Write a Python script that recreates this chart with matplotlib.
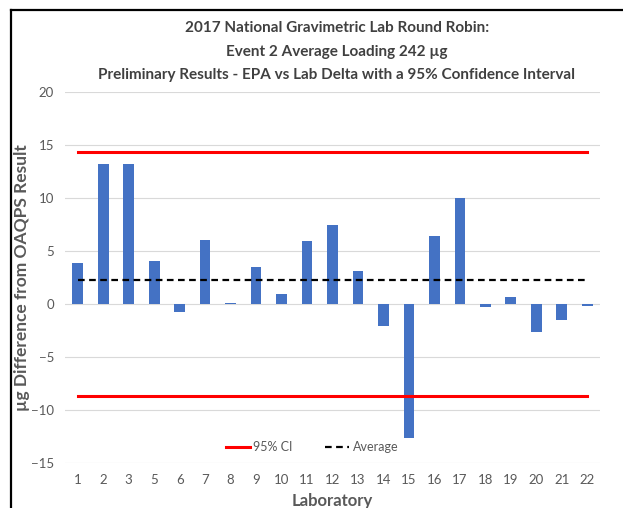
import matplotlib.pyplot as plt
from matplotlib.lines import Line2D

labs = ['1', '2', '3', '5', '6', '7', '8', '9', '10', '11', '12',
        '13', '14', '15', '16', '17', '18', '19', '20', '21', '22']
delta = [3.9, 13.2, 13.25, 4.05, -0.75, 6.07, 0.13, 3.5, 0.97, 5.95, 7.5,
         3.08, -2.1, -12.6, 6.4, 10.03, -0.25, 0.66, -2.64, -1.5, -0.2]
ci_upper = 14.3
ci_lower = -8.68
average = 2.23

plt.rcParams['font.family'] = ['Lato', 'DejaVu Sans']

fig = plt.figure(figsize=(6.23, 5.08), dpi=100)
ax = fig.add_axes([65 / 623, 1 - 463 / 508, 535 / 623, 371 / 508])

x = list(range(len(labs)))
ax.bar(x, delta, width=0.42, color='#4472C4', zorder=3)
ax.plot(x, [ci_upper] * len(x), color='#FF0000', lw=2.2, zorder=4)
ax.plot(x, [ci_lower] * len(x), color='#FF0000', lw=2.2, zorder=4)
ax.plot(x, [average] * len(x), color='black', lw=1.6, ls=(0, (3, 2)), zorder=4)

ax.set_xlim(-0.5, len(x) - 0.5)
ax.set_ylim(-15, 20)
ax.set_yticks(range(-15, 21, 5))
ax.set_xticks(x)
ax.set_xticklabels(labs)
ax.grid(axis='y', color='#D9D9D9', lw=0.8, zorder=0)
for s in ax.spines.values():
    s.set_visible(False)
ax.tick_params(length=0, colors='#595959', labelsize=9.5, pad=8)

ax.set_ylabel('µg Difference from OAQPS Result', fontsize=12.5, fontweight='bold',
              color='#595959')
ax.yaxis.set_label_coords(-0.065, 0.5)
ax.set_xlabel('Laboratory', fontsize=12, fontweight='bold', color='#595959',
              labelpad=5)

tx = 337 / 623
fig.text(tx, 1 - 28 / 508, '2017 National Gravimetric Lab Round Robin:',
         ha='center', va='center', fontsize=11, fontweight='bold', color='#404040')
fig.text(tx, 1 - 52 / 508, 'Event 2 Average Loading 242 µg',
         ha='center', va='center', fontsize=11, fontweight='bold', color='#404040')
fig.text(tx, 1 - 75 / 508, 'Preliminary Results - EPA vs Lab Delta with a 95% Confidence Interval',
         ha='center', va='center', fontsize=11, fontweight='bold', color='#404040')

handles = [Line2D([], [], color='#FF0000', lw=2.2),
           Line2D([], [], color='black', lw=1.6, ls=(0, (3, 2)))]
ax.legend(handles, ['95% CI', 'Average'], loc='center', bbox_to_anchor=(0.462, 0.042),
          ncol=2, frameon=False, fontsize=9, labelcolor='#595959',
          handlelength=1.9, handletextpad=0.3, columnspacing=2.6)

# outer frame (left and top only, like the cropped screenshot)
fig.add_artist(Line2D([10.5 / 623, 10.5 / 623], [0, 1 - 10 / 508], color='black', lw=1.6))
fig.add_artist(Line2D([10.5 / 623, 1], [1 - 10 / 508, 1 - 10 / 508], color='black', lw=1.6))

fig.savefig('out.png', dpi=100)
